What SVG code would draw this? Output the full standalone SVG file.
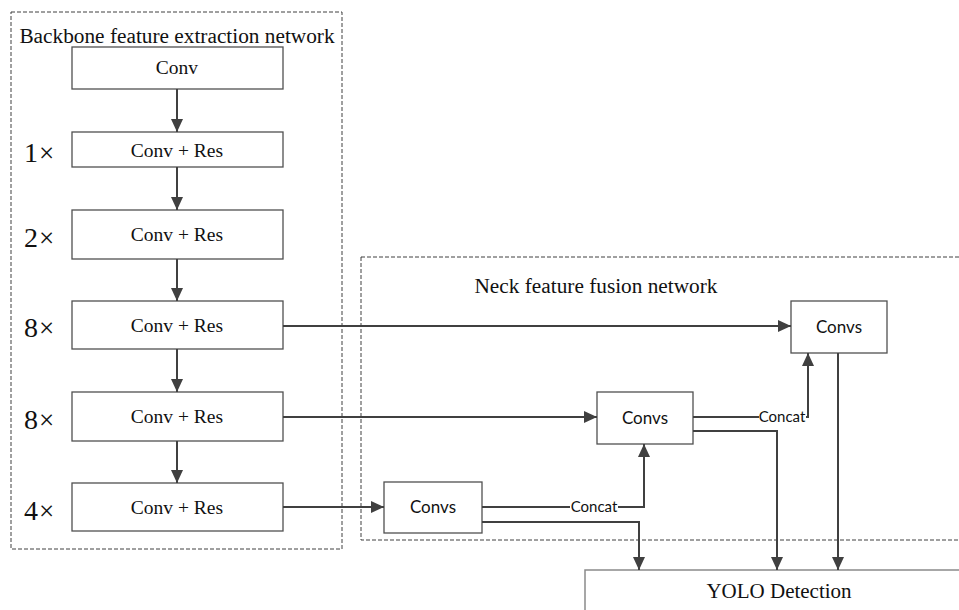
<svg xmlns="http://www.w3.org/2000/svg" width="959" height="610" viewBox="0 0 959 610">
  <defs>
    <marker id="arrow" markerUnits="userSpaceOnUse" markerWidth="14" markerHeight="14" viewBox="0 0 14 14" refX="13" refY="7" orient="auto">
      <path d="M0,1 L13,7 L0,13 Z" fill="#404040"/>
    </marker>
    <style>
      .frame { fill: none; stroke: #404040; stroke-width: 1; stroke-dasharray: 4 2; }
      .box { fill: #ffffff; stroke: #505050; stroke-width: 1.3; }
      .serif { font-family: 'Liberation Serif', 'DejaVu Serif', serif; fill: #111111; }
      .sans { font-family: Lato, 'Liberation Sans', sans-serif; fill: #111111; }
      .wire { fill: none; stroke: #404040; stroke-width: 2; }
      .mult { font-family: 'Liberation Serif', 'DejaVu Serif', serif; font-size: 28px; fill: #111111; }
      .times { font-size: 27px; }
    </style>
  </defs>

  <rect width="959" height="610" fill="#ffffff"/>

  <!-- dashed region frames -->
  <g id="backbone-frame">
    <rect class="frame" x="11" y="12" width="331" height="537"/>
    <text class="serif" x="177" y="43" font-size="21.3" text-anchor="middle">Backbone feature extraction network</text>
  </g>
  <g id="neck-frame">
    <rect class="frame" x="361" y="257" width="610" height="283"/>
    <text class="serif" x="596" y="293" font-size="21.3" text-anchor="middle">Neck feature fusion network</text>
  </g>

  <!-- backbone nodes -->
  <g id="conv">
    <rect class="box" x="72" y="47" width="211" height="42"/>
    <text class="serif" x="177" y="74" font-size="19.5" text-anchor="middle">Conv</text>
  </g>
  <g id="res1">
    <rect class="box" x="72" y="132" width="211" height="35"/>
    <text class="serif" x="177" y="157" font-size="19.5" text-anchor="middle">Conv + Res</text>
    <text class="mult" x="24" y="162">1<tspan class="times" dx="1">×</tspan></text>
  </g>
  <g id="res2">
    <rect class="box" x="72" y="210" width="211" height="49"/>
    <text class="serif" x="177" y="241" font-size="19.5" text-anchor="middle">Conv + Res</text>
    <text class="mult" x="24" y="247">2<tspan class="times" dx="1">×</tspan></text>
  </g>
  <g id="res8a">
    <rect class="box" x="72" y="301" width="211" height="48"/>
    <text class="serif" x="177" y="332" font-size="19.5" text-anchor="middle">Conv + Res</text>
    <text class="mult" x="24" y="337">8<tspan class="times" dx="1">×</tspan></text>
  </g>
  <g id="res8b">
    <rect class="box" x="72" y="392" width="211" height="49"/>
    <text class="serif" x="177" y="423" font-size="19.5" text-anchor="middle">Conv + Res</text>
    <text class="mult" x="24" y="429">8<tspan class="times" dx="1">×</tspan></text>
  </g>
  <g id="res4">
    <rect class="box" x="72" y="483" width="211" height="48"/>
    <text class="serif" x="177" y="514" font-size="19.5" text-anchor="middle">Conv + Res</text>
    <text class="mult" x="24" y="520">4<tspan class="times" dx="1">×</tspan></text>
  </g>

  <!-- neck nodes -->
  <g id="convs-top">
    <rect class="box" x="791" y="301" width="96" height="52"/>
    <text class="sans" x="839" y="333" font-size="17" text-anchor="middle">Convs</text>
  </g>
  <g id="convs-mid">
    <rect class="box" x="597" y="392" width="96" height="52"/>
    <text class="sans" x="645" y="424" font-size="17" text-anchor="middle">Convs</text>
  </g>
  <g id="convs-low">
    <rect class="box" x="384" y="482" width="98" height="51"/>
    <text class="sans" x="433" y="513" font-size="17" text-anchor="middle">Convs</text>
  </g>

  <!-- detection head -->
  <g id="yolo">
    <rect x="585" y="570" width="400" height="60" fill="#ffffff" stroke="#8a8a8a" stroke-width="1.5"/>
    <text class="serif" x="779" y="598" font-size="21" text-anchor="middle">YOLO Detection</text>
  </g>

  <!-- connectors -->
  <g id="connectors">
    <line class="wire" x1="177" y1="89" x2="177" y2="132" marker-end="url(#arrow)"/>
    <line class="wire" x1="177" y1="167" x2="177" y2="210" marker-end="url(#arrow)"/>
    <line class="wire" x1="177" y1="259" x2="177" y2="301" marker-end="url(#arrow)"/>
    <line class="wire" x1="177" y1="349" x2="177" y2="392" marker-end="url(#arrow)"/>
    <line class="wire" x1="177" y1="441" x2="177" y2="483" marker-end="url(#arrow)"/>

    <line class="wire" x1="283" y1="326" x2="791" y2="326" marker-end="url(#arrow)"/>
    <line class="wire" x1="283" y1="417" x2="597" y2="417" marker-end="url(#arrow)"/>
    <line class="wire" x1="283" y1="507" x2="384" y2="507" marker-end="url(#arrow)"/>

    <polyline class="wire" points="482,507 644,507 644,444" marker-end="url(#arrow)"/>
    <polyline class="wire" points="482,522 639,522 639,570" marker-end="url(#arrow)"/>
    <polyline class="wire" points="693,417 808,417 808,353" marker-end="url(#arrow)"/>
    <polyline class="wire" points="693,431 777,431 777,570" marker-end="url(#arrow)"/>
    <line class="wire" x1="838" y1="353" x2="838" y2="570" marker-end="url(#arrow)"/>

    <rect x="570" y="500" width="48" height="14" fill="#ffffff"/>
    <text class="sans" x="594" y="512" font-size="15" text-anchor="middle">Concat</text>
    <rect x="759" y="410" width="47" height="14" fill="#ffffff"/>
    <text class="sans" x="782" y="422" font-size="15" text-anchor="middle">Concat</text>
  </g>
</svg>
